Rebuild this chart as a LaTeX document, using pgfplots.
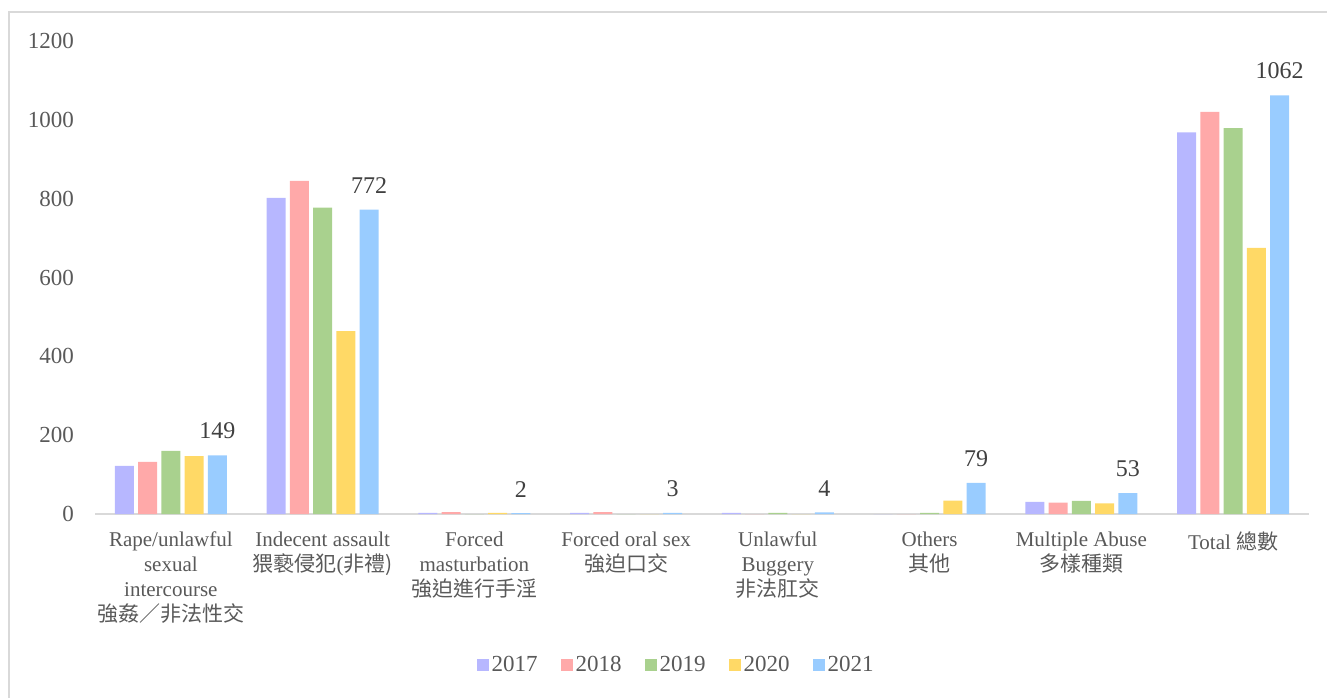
\documentclass[border=0pt]{standalone}
\usepackage{fontspec}
\setmainfont{Liberation Serif}
\newfontfamily\cjk{Noto Sans CJK TC}
\usepackage{pgfplots}
\pgfplotsset{compat=1.18}
\definecolor{cA}{HTML}{B7B7FF}
\definecolor{cB}{HTML}{FFA9A9}
\definecolor{cC}{HTML}{A9D18E}
\definecolor{cD}{HTML}{FFD966}
\definecolor{cE}{HTML}{99CCFF}
\definecolor{txt}{HTML}{595959}
\definecolor{lbl}{HTML}{404040}
\definecolor{axg}{HTML}{D9D9D9}
\begin{document}
\begin{tikzpicture}[x=1pt,y=1pt]
\useasboundingbox (0,0) rectangle (1327,697);
\draw[axg, line width=1.3pt] (9,-5) -- (9,685) -- (1335,685);
\begin{axis}[
  at={(95pt,183pt)}, anchor=south west,
  scale only axis, width=1214pt, height=473pt,
  ymin=0, ymax=1200, xmin=-0.5, xmax=7.5,
  ybar=4.3pt, bar width=19pt,
  axis x line*=bottom, axis y line*=left,
  y axis line style={draw=none},
  x axis line style={draw=axg, line width=2pt, -},
  major tick length=0pt,
  ytick={0,200,...,1200},
  xtick={0,...,7},
  xticklabels={
    {Rape/unlawful\\sexual\\intercourse\\{\cjk 強姦／非法性交}},
    {Indecent assault\\{\cjk 猥褻侵犯}(\cjk 非禮)},
    {Forced\\masturbation\\{\cjk 強迫進行手淫}},
    {Forced oral sex\\{\cjk 強迫口交}},
    {Unlawful\\Buggery\\{\cjk 非法肛交}},
    {Others\\{\cjk 其他}},
    {Multiple Abuse\\{\cjk 多樣種類}},
    {Total {\cjk 總數}}},
  /pgf/number format/assume math mode=true,
  /pgf/number format/1000 sep={},
  yticklabel style={font=\fontsize{23}{23}\selectfont, text=txt, inner sep=0pt, xshift=-21pt},
  xticklabel style={align=center, font=\fontsize{21}{24.9}\selectfont, text=txt, inner sep=0pt, yshift=-18pt},
  every axis plot/.append style={draw=none},
  legend style={at={(0.479,-0.319)}, anchor=center, draw=none, fill=none,
    legend columns=-1, font=\fontsize{23}{23}\selectfont, text=txt,
    /tikz/every even column/.append style={column sep=20pt},
    nodes={inner sep=3pt}},
  legend image code/.code={\fill[#1, draw=none] (0pt,-6pt) rectangle (12pt,6pt);},
]
\addplot[fill=cA] coordinates {(0,122) (1,802) (2,3) (3,3) (4,3) (5,0) (6,31) (7,968)};
\addplot[fill=cB] coordinates {(0,132) (1,845) (2,5) (3,5) (4,0) (5,0) (6,29) (7,1020)};
\addplot[fill=cC] coordinates {(0,160) (1,777) (2,0) (3,0) (4,3) (5,3) (6,33) (7,979)};
\addplot[fill=cD] coordinates {(0,147) (1,464) (2,3) (3,0) (4,0) (5,34) (6,27) (7,675)};
\addplot[fill=cE, nodes near coords,
  every node near coord/.append style={font=\fontsize{24}{24}\selectfont, text=lbl, inner sep=0pt, anchor=south, yshift=16pt}]
  coordinates {(0,149) (1,772) (2,2) (3,3) (4,4) (5,79) (6,53) (7,1062)};
\legend{2017,2018,2019,2020,2021}
\end{axis}
\end{tikzpicture}
\end{document}
